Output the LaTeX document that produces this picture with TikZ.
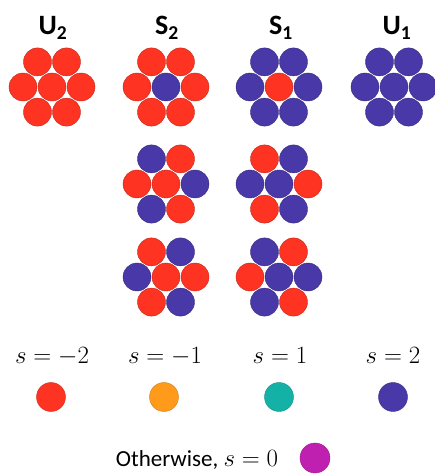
\documentclass[tikz,border=0pt]{standalone}
\usepackage{amsmath}
\usepackage{fontspec}
\setmainfont{Carlito}
\usetikzlibrary{calc}

\definecolor{beadred}{HTML}{FF3322}
\definecolor{beadblue}{HTML}{4838A8}
\definecolor{spinorange}{HTML}{FF9A1A}
\definecolor{spinteal}{HTML}{14B2A6}
\definecolor{spinmagenta}{HTML}{C020B0}

% one hexagonal cluster: #1 centre, #2 centre colour, #3 outer colours from 0 deg
\newcommand{\hexcluster}[3]{%
  \draw[bead, fill=#2, draw=#2!75!black] (#1) circle (14pt);
  \foreach \c [count=\i from 0] in {#3}
    \draw[bead, fill=\c, draw=\c!75!black] ($(#1)+(\i*60:29)$) circle (14pt);
}

\begin{document}
\begin{tikzpicture}[x=1pt, y=1pt,
    bead/.style={line width=0.4pt},
    dot/.style={line width=0.4pt},
    title/.style={anchor=base, font=\fontsize{28}{32}\selectfont\bfseries},
    spin/.style={anchor=base, font=\fontsize{25}{30}\selectfont},
    note/.style={anchor=base, font=\fontsize{23}{28}\selectfont}]
  \useasboundingbox (0,0) rectangle (435,475);

  % cluster centres
  \coordinate (u2) at (52,388);
  \coordinate (s2) at (166,388);
  \coordinate (s1) at (279,388);
  \coordinate (u1) at (394,388);
  \coordinate (s2b) at (166,291);
  \coordinate (s1b) at (279,291);
  \coordinate (s2c) at (166,198);
  \coordinate (s1c) at (279,198);

  % column titles
  \node[title] (u2 title) at (53,440) {U\textsubscript{2}};
  \node[title] (s2 title) at (167,440) {S\textsubscript{2}};
  \node[title] (s1 title) at (281,440) {S\textsubscript{1}};
  \node[title] (u1 title) at (397,440) {U\textsubscript{1}};

  % clusters
  \hexcluster{u2}{beadred}{beadred,beadred,beadred,beadred,beadred,beadred}
  \hexcluster{s2}{beadblue}{beadred,beadred,beadred,beadred,beadred,beadred}
  \hexcluster{s1}{beadred}{beadblue,beadblue,beadblue,beadblue,beadblue,beadblue}
  \hexcluster{u1}{beadblue}{beadblue,beadblue,beadblue,beadblue,beadblue,beadblue}
  \hexcluster{s2b}{beadred}{beadblue,beadred,beadblue,beadred,beadblue,beadred}
  \hexcluster{s1b}{beadblue}{beadred,beadblue,beadred,beadblue,beadred,beadblue}
  \hexcluster{s2c}{beadred}{beadred,beadblue,beadred,beadblue,beadred,beadblue}
  \hexcluster{s1c}{beadblue}{beadblue,beadred,beadblue,beadred,beadblue,beadred}

  % legend
  \node[spin] (m2 label) at (52,111) {$s=-2$};
  \node[spin] (m1 label) at (165,111) {$s=-1$};
  \node[spin] (p1 label) at (280,111) {$s=1$};
  \node[spin] (p2 label) at (393,111) {$s=2$};
  \draw[dot, fill=beadred, draw=beadred!80!black] (51,78) circle (14.5pt);
  \draw[dot, fill=spinorange, draw=spinorange!80!black] (164,78) circle (14.5pt);
  \draw[dot, fill=spinteal, draw=spinteal!80!black] (279,78) circle (14.5pt);
  \draw[dot, fill=beadblue, draw=beadblue!80!black] (393,78) circle (14.5pt);

  \node[note] (zero label) at (197,9) {Otherwise, \fontsize{25}{30}\selectfont$s=0$};
  \draw[dot, fill=spinmagenta, draw=spinmagenta!80!black] (315,17) circle (15pt);
\end{tikzpicture}
\end{document}
